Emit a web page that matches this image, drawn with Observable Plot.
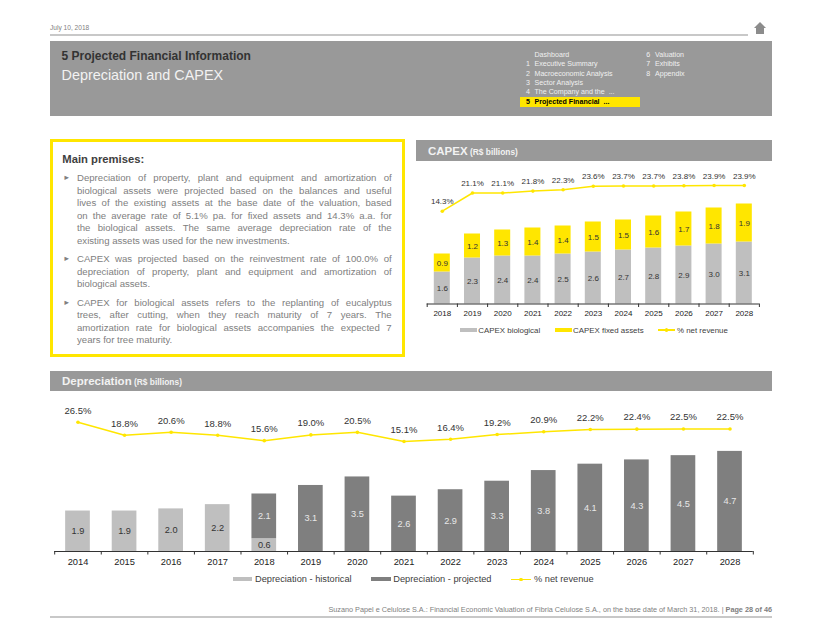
<!DOCTYPE html>
<html>
<head>
<meta charset="utf-8">
<script src="https://cdn.jsdelivr.net/npm/d3@7"></script>
<script src="https://cdn.jsdelivr.net/npm/@observablehq/plot@0.6"></script>
<style>
html,body{margin:0;padding:0;background:#fff}
#page{position:relative;width:822px;height:635px;overflow:hidden;font-family:"Liberation Sans",Arial,sans-serif}
#page div{position:absolute;white-space:nowrap}
.ln{left:77px;width:314.7px;font-size:9.6px;line-height:12.45px;color:#808080;text-align:justify;text-align-last:justify;white-space:normal!important}
.ln.end{text-align-last:left}
.bul{left:63px;font-size:7.5px;color:#808080;line-height:12.45px}
.chart svg{position:absolute;left:0;top:0;overflow:visible;background:transparent}
</style>
</head>
<body>
<div id="page"></div>
<script>
// CAPEX chart data (R$ billions)
const capexYears = [2018,2019,2020,2021,2022,2023,2024,2025,2026,2027,2028];
const capexBiological = [1.6,2.3,2.4,2.4,2.5,2.6,2.7,2.8,2.9,3.0,3.1];
const capexFixed = [0.9,1.2,1.3,1.4,1.4,1.5,1.5,1.6,1.7,1.8,1.9];
const capexPct = [14.3,21.1,21.1,21.8,22.3,23.6,23.7,23.7,23.8,23.9,23.9];
// Depreciation chart data (R$ billions)
const depYears = [2014,2015,2016,2017,2018,2019,2020,2021,2022,2023,2024,2025,2026,2027,2028];
const depHistorical = [1.9,1.9,2.0,2.2,0.6,0,0,0,0,0,0,0,0,0,0];
const depProjected = [0,0,0,0,2.1,3.1,3.5,2.6,2.9,3.3,3.8,4.1,4.3,4.5,4.7];
const depPct = [26.5,18.8,20.6,18.8,15.6,19.0,20.5,15.1,16.4,19.2,20.9,22.2,22.4,22.5,22.5];

const GREY="#bfbfbf", DARK="#7f7f7f", YEL="#ffe600", INK="#333333";
const FONT='"Liberation Sans",Arial,sans-serif';
const page=document.getElementById("page");
function box(l,t,w,h,bg,extra){const d=document.createElement("div");d.style.cssText=`left:${l}px;top:${t}px;width:${w}px;height:${h}px;background:${bg};${extra||""}`;page.appendChild(d);return d;}
function txt(l,cy,s,size,color,extra){const d=document.createElement("div");d.textContent=s;const lh=size*1.4;d.style.cssText=`left:${l}px;top:${cy-lh/2+.6}px;font-size:${size}px;line-height:${lh}px;color:${color};${extra||""}`;page.appendChild(d);return d;}

// page furniture
txt(50,27,"July 10, 2018",6.6,"#7f7f7f");
box(50,34,698,1.5,"#c8c8c8");
box(754,22,0,0,"transparent","border-left:6px solid transparent;border-right:6px solid transparent;border-bottom:6px solid #8c8c8c");
box(756,28,8,6,"#8c8c8c");
box(50,41,722,75,"#999");
txt(61.5,56,"5 Projected Financial Information",12,INK,"font-weight:bold");
txt(61.5,74.5,"Depreciation and CAPEX",14.4,"#f2f2f2");
box(520,97,120,10,YEL);
const navL=[["","Dashboard"],["1","Executive Summary"],["2","Macroeconomic Analysis"],["3","Sector Analysis"],["4","The Company and the  ..."],["5","Projected Financial  ..."]];
navL.forEach((r,i)=>{const cy=55.3+i*9.33;const on=i===5;const c=on?"#000":"#f0f0f0";const w=on?"font-weight:bold":"";
  if(r[0])txt(526,cy,r[0],7.1,c,w);txt(534.5,cy,r[1],7.1,c,w+";white-space:pre");});
[["6","Valuation"],["7","Exhibits"],["8","Appendix"]].forEach((r,i)=>{const cy=55.3+i*9.33;txt(646.3,cy,r[0],7.1,"#f0f0f0");txt(655,cy,r[1],7.1,"#f0f0f0");});

// premises box
box(49.5,139,355.5,217.5,"#fff","box-sizing:border-box;border:3.5px solid "+YEL);
txt(62.3,159,"Main premises:",11.25,"#404040","font-weight:bold");
const paras=[
 {y:172.4,lines:["Depreciation of property, plant and equipment and amortization of","biological assets were projected based on the balances and useful","lives of the existing assets at the base date of the valuation, based","on the average rate of 5.1% pa. for fixed assets and 14.3% a.a. for","the biological assets. The same average depreciation rate of the","existing assets was used for the new investments."]},
 {y:253.4,lines:["CAPEX was projected based on the reinvestment rate of 100.0% of","depreciation of property, plant and equipment and amortization of","biological assets."]},
 {y:296.7,lines:["CAPEX for biological assets refers to the replanting of eucalyptus","trees, after cutting, when they reach maturity of 7 years. The","amortization rate for biological assets accompanies the expected 7","years for tree maturity."]}
];
paras.forEach(p=>{
  const b=document.createElement("div");b.className="bul";b.textContent="\u25BA";b.style.top=p.y+"px";page.appendChild(b);
  p.lines.forEach((s,i)=>{const d=document.createElement("div");d.className="ln"+(i===p.lines.length-1?" end":"");d.textContent=s;d.style.top=(p.y+i*12.45)+"px";page.appendChild(d);});
});

// section bands
function band(l,t,w,main,sub){box(l,t,w,20.5,"#999");const d=txt(l+12,t+10.2,main,11.5,"#f2f2f2","font-weight:bold");const s=document.createElement("span");s.textContent=" "+sub;s.style.fontSize="8.4px";d.appendChild(s);}
band(416,140,356,"CAPEX","(R$ billions)");
band(50,370.5,722,"Depreciation","(R$ billions)");

// stacked-bar + overlaid line chart: bars and the % line have separate y scales
function combo(o){
  const wrap=document.createElement("div");wrap.className="chart";
  wrap.style.cssText=`left:${o.left}px;top:${o.top}px;width:${o.width}px;height:${o.height}px`;page.appendChild(wrap);
  const x={type:"band",domain:o.years,paddingInner:.47,paddingOuter:.235,round:false};
  const keys=o.series.map(s=>s.key);
  const bars=[];
  o.series.forEach(s=>{o.years.forEach((yr,i)=>{ if(s.values[i]>0) bars.push({year:yr,v:s.values[i],key:s.key,ink:s.ink}); });});
  const step=(o.width-o.ml-o.mr)/o.years.length;
  const frame={width:o.width,height:o.height,marginTop:0,marginBottom:o.mb,marginLeft:o.ml,marginRight:o.mr,style:{fontFamily:FONT,background:"transparent"}};
  const barChart=Plot.plot({...frame,
    x,y:{domain:[0,(o.height-o.mb)/o.ppu],axis:null},
    color:{domain:keys,range:o.series.map(s=>s.color)},
    marks:[
      Plot.barY(bars,Plot.stackY({x:"year",y:"v",z:"key",order:keys,fill:"key"})),
      Plot.text(bars,Plot.stackY({x:"year",y:"v",z:"key",order:keys,text:d=>d.v.toFixed(1),fill:"ink",fontSize:o.barFont})),
      Plot.ruleY([0],{stroke:"#333",strokeWidth:1}),
      Plot.ruleX(o.years,{x:d=>d,y1:0,y2:-3.5/o.ppu,stroke:"#333",dx:-step/2}),
      Plot.ruleX(o.years.slice(-1),{x:d=>d,y1:0,y2:-3.5/o.ppu,stroke:"#333",dx:step/2}),
      Plot.axisX({tickSize:0,tickPadding:o.tickPad,fontSize:o.tickFont,fill:"#222",label:null,tickFormat:d=>String(d)})
    ]});
  wrap.appendChild(barChart);
  const pts=o.years.map((yr,i)=>({year:yr,p:o.pct[i]}));
  const lineChart=Plot.plot({...frame,
    x:{...x,axis:null},y:{domain:o.pctDomain,range:o.pctRange,axis:null},
    marks:[
      Plot.line(pts,{x:"year",y:"p",stroke:YEL,strokeWidth:1.5,curve:"linear"}),
      Plot.dot(pts,{x:"year",y:"p",r:1.8,fill:YEL,stroke:null}),
      Plot.text(pts,{x:"year",y:"p",text:d=>d.p.toFixed(1)+"%",dy:o.labDy,fontSize:o.lineFont,fill:"#333"})
    ]});
  wrap.appendChild(lineChart);
}
combo({left:416,top:165,width:356,height:155,mb:16.5,ml:10.7,mr:13.1,years:capexYears,ppu:20,
  series:[{key:"CAPEX biological",values:capexBiological,color:GREY,ink:"#333"},{key:"CAPEX fixed assets",values:capexFixed,color:YEL,ink:"#333"}],
  pct:capexPct,pctDomain:[14.3,23.9],pctRange:[45.7,20],labDy:-9.5,barFont:8,tickFont:8,lineFont:8,tickPad:6});
combo({left:50,top:395,width:722,height:172,mb:16,ml:4.2,mr:19.2,years:depYears,ppu:21.3,
  series:[{key:"Depreciation - historical",values:depHistorical,color:GREY,ink:"#333"},{key:"Depreciation - projected",values:depProjected,color:DARK,ink:"#e8e8e8"}],
  pct:depPct,pctDomain:[15.1,26.5],pctRange:[46,26.7],labDy:-11.7,barFont:9.2,tickFont:9.3,lineFont:9.5,tickPad:6.5});

// legends
function legend(cy,size,items){items.forEach(it=>{
  if(it.line){box(it.x,cy-.7,it.w,1.5,YEL);box(it.x+it.w/2-1.7,cy-1.7,3.5,3.5,YEL,"border-radius:50%");}
  else box(it.x,cy-2,it.w,4,it.color);
  txt(it.tx,cy,it.label,size,"#404040");});}
legend(330,7.9,[{x:460,w:16.5,color:GREY,tx:478.3,label:"CAPEX biological"},{x:555,w:16.5,color:YEL,tx:573,label:"CAPEX fixed assets"},{x:658,w:17,line:true,tx:677,label:"% net revenue"}]);
legend(579.3,9.25,[{x:233.3,w:19.2,color:GREY,tx:255,label:"Depreciation - historical"},{x:371,w:19.5,color:DARK,tx:393.3,label:"Depreciation - projected"},{x:510.7,w:20.5,line:true,tx:534,label:"% net revenue"}]);

// footer
const ft=txt(0,609.3,"",7.27,"#808080","right:50px;left:auto");
ft.innerHTML='Suzano Papel e Celulose S.A.: Financial Economic Valuation of Fibria Celulose S.A., on the base date of March 31, 2018. | <b>Page 28 of 46</b>';
box(50,616,722,1.5,"#c8c8c8");
</script>
</body>
</html>
